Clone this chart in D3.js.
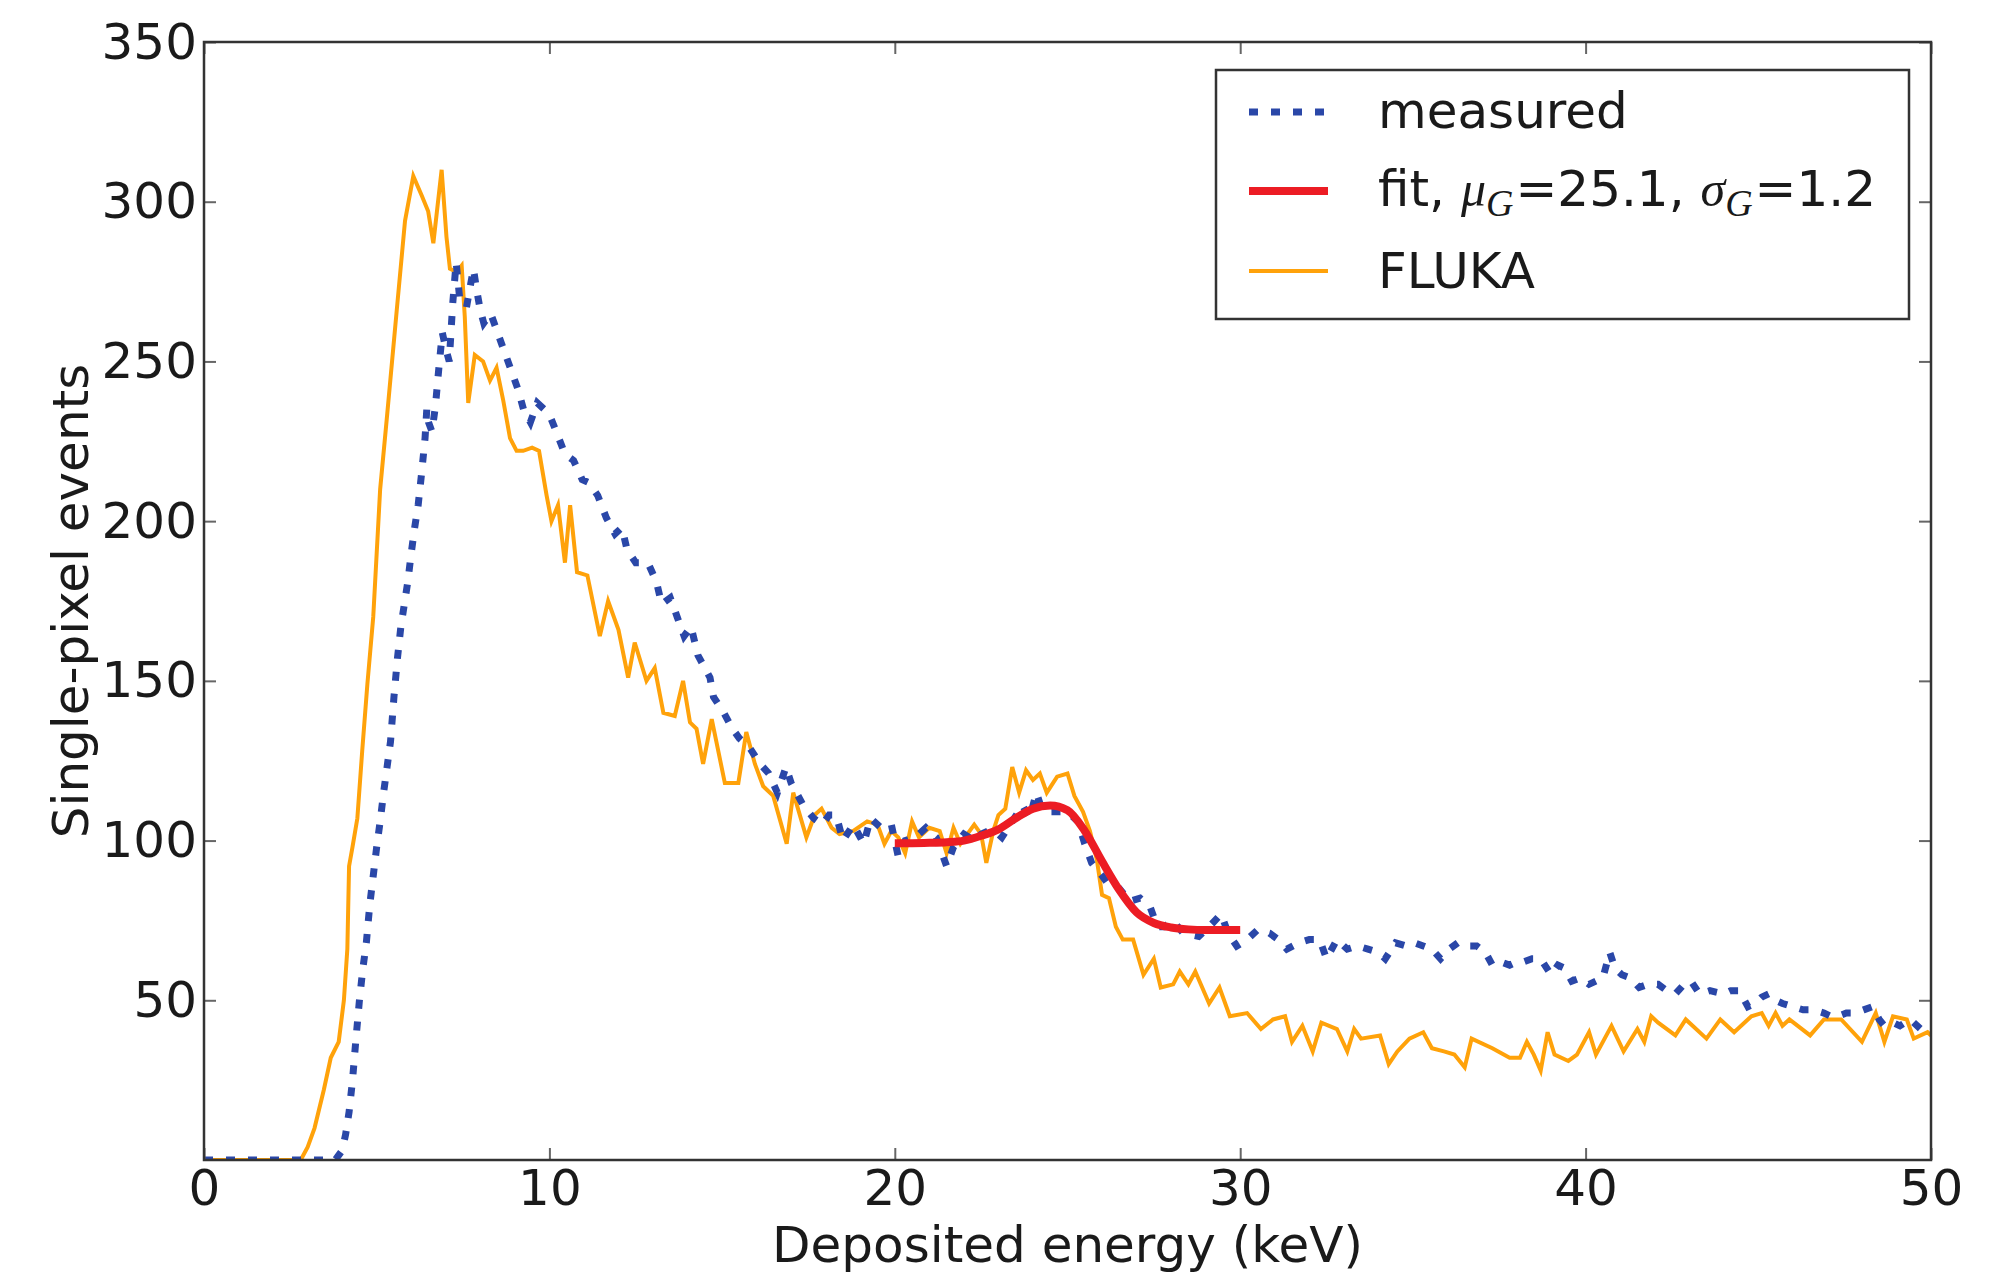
<!DOCTYPE html>
<html>
<head>
<meta charset="utf-8">
<script src="https://cdn.jsdelivr.net/npm/d3@7"></script>
<style>
  body { margin: 0; background: #fff; }
  text { font-family: "DejaVu Sans", sans-serif; fill: #1a1a1a; }
</style>
</head>
<body>
<div id="chart"></div>
<script>
// measured single-pixel spectrum (keV, events)
const measuredKeV = [
  0, 3.8, 4.0, 4.1, 4.2, 4.3, 4.4, 4.5, 4.6, 4.7,
  4.8, 4.9, 5.0, 5.1, 5.2, 5.3, 5.4, 5.5, 5.6, 5.7,
  5.8, 5.9, 6.0, 6.1, 6.2, 6.3, 6.4, 6.45, 6.5, 6.6,
  6.7, 6.8, 6.9, 7.0, 7.1, 7.2, 7.3, 7.4, 7.6, 7.8,
  7.9, 8.0, 8.1, 8.3, 8.5, 8.7, 8.9, 9.1, 9.25, 9.45,
  9.65, 9.85, 10.05, 10.2, 10.45, 10.7, 10.95, 11.15, 11.4, 11.65,
  11.9, 12.1, 12.25, 12.5, 12.85, 13.1, 13.25, 13.5, 13.7, 13.9,
  14.1, 14.3, 14.5, 14.65, 14.75, 15.05, 15.3, 15.5, 15.8, 16.1,
  16.35, 16.6, 16.85, 17.0, 17.35, 17.65, 17.9, 18.1, 18.3, 18.5,
  18.8, 19.1, 19.3, 19.6, 19.9, 20.1, 20.3, 20.6, 20.9, 21.2,
  21.3, 21.5, 21.7, 22.0, 22.3, 22.5, 22.7, 22.9, 23.1, 23.4,
  23.7, 23.9, 24.1, 24.25, 24.5, 24.8, 25.1, 25.3, 25.5, 25.7,
  26.0, 26.2, 26.5, 26.8, 27.1, 27.4, 27.6, 27.8, 28.05, 28.35,
  28.8, 29.1, 29.45, 29.65, 29.9, 30.2, 30.5, 30.85, 31.1, 31.35,
  31.7, 32.0, 32.3, 32.5, 32.8, 33.1, 33.4, 33.7, 34.0, 34.2,
  34.5, 34.8, 35.05, 35.3, 35.55, 35.8, 36.05, 36.3, 36.6, 36.85,
  37.1, 37.3, 37.55, 37.8, 38.0, 38.2, 38.45, 38.7, 39.0, 39.2,
  39.4, 39.6, 39.85, 40.1, 40.3, 40.5, 40.7, 40.85, 41.05, 41.3,
  41.55, 41.8, 42.1, 42.35, 42.6, 42.85, 43.05, 43.3, 43.6, 44.0,
  44.2, 44.45, 44.7, 44.9, 45.1, 45.3, 45.5, 45.7, 46.0, 46.3,
  46.6, 46.9, 47.1, 47.3, 47.55, 47.8, 48.05, 48.3, 48.5, 48.65,
  48.9, 49.1, 49.4, 49.7, 50.0
];
const measuredCounts = [
  0, 0, 3, 8, 15, 25, 38, 50, 60, 68,
  80, 89, 98, 106, 115, 123, 131, 145, 157, 167,
  174, 181, 190, 198, 205, 215, 226, 235, 231, 228,
  236, 248, 259, 254, 250, 268, 281, 270, 267, 279,
  272, 266, 262, 265, 259, 253, 247, 241, 235, 231,
  237, 235, 232, 228, 221, 219, 213, 212, 208, 201,
  196, 198, 191, 187, 187, 181, 174, 176, 170, 164,
  167, 158, 154, 151, 145, 140, 135, 132, 129, 124,
  121, 115, 123, 118, 111, 107, 105, 108, 108, 100,
  105, 99, 107, 104, 105, 95, 100, 101, 104, 101,
  98, 92, 98, 102, 100, 102, 103, 103, 101, 106,
  111, 107, 115, 110, 109, 109, 108, 106, 99, 93,
  89, 86, 85, 81, 82, 79, 73, 73, 75, 71,
  70, 73, 77, 71, 67, 69, 72, 71, 69, 66,
  68, 69, 69, 63, 69, 66, 67, 66, 65, 63,
  68, 67, 68, 67, 66, 63, 66, 68, 67, 67,
  65, 61, 62, 61, 62, 62, 63, 63, 58, 61,
  60, 56, 57, 55, 56, 57, 65, 60, 58, 57,
  54, 55, 55, 53, 52, 55, 56, 52, 53, 52,
  53, 53, 48, 49, 51, 52, 50, 49, 48, 47,
  47, 46, 45, 45, 46, 46, 47, 48, 44, 42,
  43, 42, 44, 41, 41
];

// FLUKA simulation
const flukaKeV = [
  0, 2.8, 3.0, 3.2, 3.47, 3.67, 3.9, 4.05, 4.15, 4.2,
  4.3, 4.44, 4.58, 4.73, 4.9, 5.1, 5.3, 5.58, 5.82, 6.06,
  6.3, 6.49, 6.64, 6.88, 7.02, 7.12, 7.31, 7.46, 7.55, 7.65,
  7.84, 8.08, 8.28, 8.47, 8.66, 8.86, 9.05, 9.24, 9.5, 9.7,
  9.92, 10.06, 10.25, 10.45, 10.6, 10.8, 11.1, 11.46, 11.7, 12.0,
  12.28, 12.47, 12.81, 13.05, 13.3, 13.63, 13.87, 14.07, 14.26, 14.45,
  14.7, 15.08, 15.47, 15.7, 15.95, 16.19, 16.48, 16.87, 17.06, 17.44,
  17.68, 17.88, 18.17, 18.4, 18.8, 19.2, 19.5, 19.7, 19.9, 20.1,
  20.3, 20.5, 20.7, 21.0, 21.3, 21.5, 21.7, 21.9, 22.3, 22.5,
  22.65, 22.85, 23.0, 23.2, 23.4, 23.6, 23.8, 24.0, 24.2, 24.4,
  24.7, 25.0, 25.2, 25.45, 25.65, 25.85, 26.0, 26.2, 26.4, 26.6,
  26.9, 27.2, 27.5, 27.7, 28.06, 28.25, 28.5, 28.7, 29.1, 29.4,
  29.7, 30.2, 30.6, 30.95, 31.3, 31.5, 31.8, 32.1, 32.35, 32.8,
  33.1, 33.3, 33.5, 34.05, 34.3, 34.55, 34.9, 35.3, 35.55, 35.9,
  36.2, 36.5, 36.7, 37.3, 37.8, 38.1, 38.3, 38.5, 38.7, 38.9,
  39.1, 39.5, 39.75, 40.1, 40.3, 40.75, 41.1, 41.5, 41.7, 41.9,
  42.1, 42.6, 42.9, 43.5, 43.9, 44.3, 44.8, 45.1, 45.3, 45.5,
  45.7, 45.9, 46.5, 46.9, 47.4, 48.0, 48.4, 48.65, 48.9, 49.3,
  49.5, 49.9, 50
];
const flukaCounts = [
  0, 0, 4, 10, 22, 32, 37, 50, 66, 92,
  98, 107, 128, 149, 170, 210, 233, 266, 294, 308,
  302, 297, 287, 310, 289, 279, 278, 280, 264, 237,
  252, 250, 244, 248, 238, 226, 222, 222, 223, 222,
  208, 200, 205, 187, 205, 184, 183, 164, 175, 166,
  151, 162, 150, 154, 140, 139, 150, 137, 135, 124,
  138, 118, 118, 134, 124, 117, 114, 99, 115, 101,
  108, 110, 104, 102, 103, 106, 105, 99, 103, 101,
  96, 106, 101, 104, 103, 96, 104, 99, 105, 102,
  93, 103, 108, 110, 123, 115, 122, 119, 121, 115,
  120, 121, 114, 109, 103, 94, 83, 82, 73, 69,
  69, 58, 63, 54, 55, 59, 55, 59, 49, 54,
  45, 46, 41, 44, 45, 37, 42, 34, 43, 41,
  34, 41, 38, 39, 30, 34, 38, 40, 35, 34,
  33, 29, 38, 35, 32, 32, 37, 33, 28, 40,
  33, 31, 33, 40, 33, 42, 34, 41, 37, 45,
  43, 39, 44, 38, 44, 40, 45, 46, 42, 46,
  42, 44, 39, 44, 44, 37, 46, 37, 45, 44,
  38, 40, 39
];

// gaussian peak fit over 20-30 keV
const fitKeV = [20, 20.5, 21, 21.5, 22, 22.5, 23, 23.5, 24, 24.5, 25,
  25.5, 26, 26.5, 27, 27.5, 28, 28.5, 29, 29.5, 30];
const fitCounts = [99.2, 99.2, 99.3, 99.5, 100, 101.5, 103.5, 107, 110, 111, 109.5,
  103, 93.5, 84.5, 77.5, 74.2, 72.8, 72.2, 72, 72, 72];

const xTicks = [0, 10, 20, 30, 40, 50];
const yTicks = [50, 100, 150, 200, 250, 300, 350];

const zip = (xs, ys) => xs.map((x, i) => ({x: x, y: ys[i]}));

const margin = ({top: 42, right: 68, bottom: 114, left: 204});
const width = 1999 - margin.left - margin.right;
const height = 1274 - margin.top - margin.bottom;

const root = d3.select('#chart')
    .append('svg')
    .attr('width', width + margin.left + margin.right)
    .attr('height', height + margin.top + margin.bottom);

const svg = root.append('g')
    .attr('transform', 'translate(' + margin.left + ',' + margin.top + ')');

const xScale = d3.scaleLinear().domain([0, 50]).range([0, width]);
const yScale = d3.scaleLinear().domain([0, 350]).range([height, 0]);

svg.append('clipPath').attr('id', 'plot-clip')
    .append('rect').attr('width', width).attr('height', height);

const line = d3.line()
    .x(d => xScale(d.x))
    .y(d => yScale(d.y));

const plot = svg.append('g').attr('clip-path', 'url(#plot-clip)');

plot.append('path')
    .datum(zip(flukaKeV, flukaCounts))
    .attr('fill', 'none')
    .attr('stroke', '#ffa20a')
    .attr('stroke-width', 4)
    .attr('stroke-linejoin', 'miter')
    .attr('d', line);

plot.append('path')
    .datum(zip(measuredKeV, measuredCounts))
    .attr('fill', 'none')
    .attr('stroke', '#2a47a8')
    .attr('stroke-width', 7)
    .attr('stroke-dasharray', '9,13')
    .attr('d', line);

plot.append('path')
    .datum(zip(fitKeV, fitCounts))
    .attr('fill', 'none')
    .attr('stroke', '#ec1c24')
    .attr('stroke-width', 8)
    .attr('d', line.curve(d3.curveMonotoneX));

// axes: inward ticks on all four sides
const tick = 12;
const xAxis = d3.axisBottom(xScale).tickValues(xTicks).tickSizeInner(-tick).tickSizeOuter(0).tickPadding(9);
const yAxis = d3.axisLeft(yScale).tickValues(yTicks).tickSizeInner(-tick).tickSizeOuter(0).tickPadding(7);
const xTop = d3.axisTop(xScale).tickValues(xTicks).tickSizeInner(-tick).tickSizeOuter(0).tickFormat('');
const yRight = d3.axisRight(yScale).tickValues(yTicks).tickSizeInner(-tick).tickSizeOuter(0).tickFormat('');

svg.append('g').attr('class', 'axis x-axis')
    .attr('transform', 'translate(0,' + height + ')').call(xAxis);
svg.append('g').attr('class', 'axis y-axis').call(yAxis);
svg.append('g').attr('class', 'axis').call(xTop);
svg.append('g').attr('class', 'axis')
    .attr('transform', 'translate(' + width + ',0)').call(yRight);

svg.selectAll('.axis .domain').remove();
svg.selectAll('.axis .tick line').attr('stroke', '#666').attr('stroke-width', 2);
svg.selectAll('.axis text')
    .attr('font-family', '"DejaVu Sans", sans-serif')
    .attr('font-size', 50)
    .attr('fill', '#1a1a1a');

svg.append('rect')
    .attr('width', width)
    .attr('height', height)
    .attr('fill', 'none')
    .attr('stroke', '#333')
    .attr('stroke-width', 2.5);

// axis labels
svg.append('text')
    .attr('x', width / 2)
    .attr('y', height + 102)
    .attr('text-anchor', 'middle')
    .attr('font-size', 50)
    .text('Deposited energy (keV)');

svg.append('text')
    .attr('transform', 'translate(' + (-116) + ',' + (height / 2) + ') rotate(-90)')
    .attr('text-anchor', 'middle')
    .attr('font-size', 50)
    .text('Single-pixel events');

// legend
const legend = root.append('g').attr('transform', 'translate(1216,70)');
legend.append('rect')
    .attr('width', 693).attr('height', 249)
    .attr('fill', '#fff').attr('stroke', '#333').attr('stroke-width', 2.5);

const items = [
  {color: '#2a47a8', width: 7, dash: '9,13', y: 42},
  {color: '#ec1c24', width: 8, dash: null, y: 121},
  {color: '#ffa20a', width: 4, dash: null, y: 201}
];
items.forEach(it => {
  legend.append('line')
      .attr('x1', 33).attr('x2', 112)
      .attr('y1', it.y).attr('y2', it.y)
      .attr('stroke', it.color)
      .attr('stroke-width', it.width)
      .attr('stroke-dasharray', it.dash);
});

legend.append('text').attr('x', 162).attr('y', 58).attr('font-size', 50).text('measured');

const serif = '"Liberation Serif", serif';
const fitLabel = legend.append('text').attr('x', 162).attr('y', 136).attr('font-size', 50);
fitLabel.append('tspan').text('fit, ');
fitLabel.append('tspan').attr('font-family', serif).attr('font-style', 'italic').text('\u03bc');
fitLabel.append('tspan').attr('font-family', serif).attr('font-style', 'italic')
    .attr('font-size', 38).attr('dy', 10).text('G');
fitLabel.append('tspan').attr('dy', -10).attr('dx', 2).text('=25.1, ');
fitLabel.append('tspan').attr('font-family', serif).attr('font-style', 'italic').text('\u03c3');
fitLabel.append('tspan').attr('font-family', serif).attr('font-style', 'italic')
    .attr('font-size', 38).attr('dy', 10).text('G');
fitLabel.append('tspan').attr('dy', -10).attr('dx', 2).text('=1.2');

legend.append('text').attr('x', 162).attr('y', 218).attr('font-size', 50).text('FLUKA');
</script>
</body>
</html>
